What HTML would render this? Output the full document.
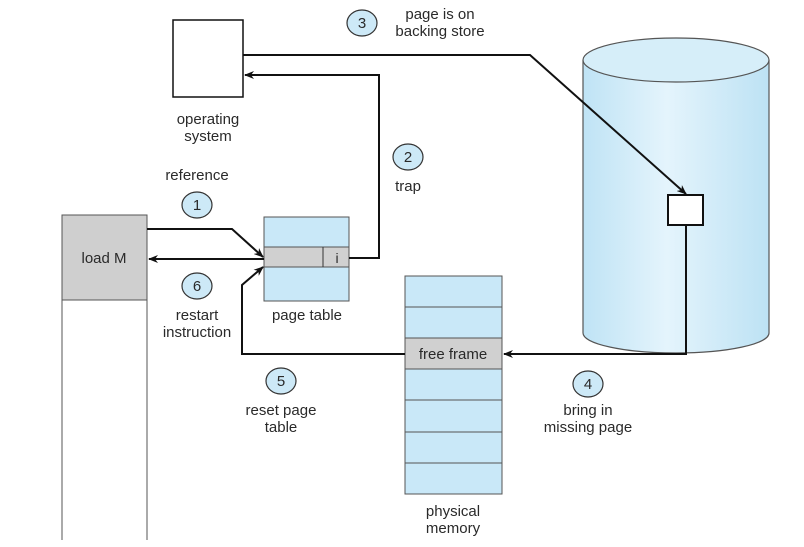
<!DOCTYPE html>
<html><head><style>body{margin:0;background:#fff}svg{display:block}text{font-family:"Liberation Sans",sans-serif;font-size:15px;fill:#2a2a2a;text-anchor:middle}</style></head>
<body><svg width="804" height="547" viewBox="0 0 804 547">
<defs>
<marker id="a" markerWidth="10" markerHeight="8" refX="9" refY="4" orient="auto" markerUnits="userSpaceOnUse"><path d="M0,0 L10,4 L0,8 L3,4z" fill="#111"/></marker>
<linearGradient id="g" x1="0" x2="1"><stop offset="0" stop-color="#bfe3f5"/><stop offset="0.45" stop-color="#e4f4fc"/><stop offset="1" stop-color="#bde2f4"/></linearGradient>
</defs>
<!-- cylinder -->
<path d="M583,60 L583,333 A93,20 0 0 0 769,333 L769,60" fill="url(#g)" stroke="#555" stroke-width="1.2"/>
<ellipse cx="676" cy="60" rx="93" ry="22" fill="#d6eef9" stroke="#555" stroke-width="1.2"/>
<rect x="668" y="195" width="35" height="30" fill="#fff" stroke="#111" stroke-width="2"/>
<!-- OS box -->
<rect x="173" y="20" width="70" height="77" fill="#fff" stroke="#111" stroke-width="1.5"/>
<text x="208" y="124">operating</text><text x="208" y="141">system</text>
<!-- left column -->
<line x1="62" y1="215" x2="62" y2="540" stroke="#555"/><line x1="147" y1="215" x2="147" y2="540" stroke="#555"/>
<rect x="62" y="215" width="85" height="85" fill="#cfcfcf" stroke="#555"/>
<text x="104" y="263">load M</text>
<!-- page table -->
<rect x="264" y="217" width="85" height="84" fill="#c9e8f8" stroke="#555"/>
<rect x="264" y="247" width="85" height="20" fill="#d0d0d0" stroke="#555"/>
<line x1="323" y1="247" x2="323" y2="267" stroke="#333"/>
<text x="337" y="263" style="font-size:14px">i</text>
<text x="307" y="320">page table</text>
<!-- physical memory -->
<rect x="405" y="276" width="97" height="218" fill="#c9e8f8" stroke="#555"/>
<rect x="405" y="338" width="97" height="31" fill="#d0d0d0" stroke="#555"/>
<g stroke="#555"><line x1="405" y1="307" x2="502" y2="307"/><line x1="405" y1="400" x2="502" y2="400"/><line x1="405" y1="432" x2="502" y2="432"/><line x1="405" y1="463" x2="502" y2="463"/></g>
<text x="453" y="359">free frame</text>
<text x="453" y="516">physical</text><text x="453" y="533">memory</text>
<!-- arrows -->
<g fill="none" stroke="#111" stroke-width="2">
<path d="M243,55 L530,55 L686,194" marker-end="url(#a)"/>
<path d="M349,258 L379,258 L379,75 L245,75" marker-end="url(#a)"/>
<path d="M147,229 L232,229 L263,257" marker-end="url(#a)"/>
<path d="M264,259 L149,259" marker-end="url(#a)"/>
<path d="M405,354 L242,354 L242,285 L263,267" marker-end="url(#a)"/>
<path d="M686,225 L686,354 L504,354" marker-end="url(#a)"/>
</g>
<!-- circles -->
<g fill="#cde9f7" stroke="#333" stroke-width="1.2">
<ellipse cx="362" cy="23" rx="15" ry="13"/><ellipse cx="408" cy="157" rx="15" ry="13"/>
<ellipse cx="197" cy="205" rx="15" ry="13"/><ellipse cx="197" cy="286" rx="15" ry="13"/>
<ellipse cx="281" cy="381" rx="15" ry="13"/><ellipse cx="588" cy="384" rx="15" ry="13"/>
</g>
<text x="362" y="28">3</text><text x="408" y="162">2</text><text x="197" y="210">1</text>
<text x="197" y="291">6</text><text x="281" y="386">5</text><text x="588" y="389">4</text>
<text x="440" y="19">page is on</text><text x="440" y="36">backing store</text>
<text x="408" y="191">trap</text>
<text x="197" y="180">reference</text>
<text x="197" y="320">restart</text><text x="197" y="337">instruction</text>
<text x="281" y="415">reset page</text><text x="281" y="432">table</text>
<text x="588" y="415">bring in</text><text x="588" y="432">missing page</text>
</svg></body></html>
